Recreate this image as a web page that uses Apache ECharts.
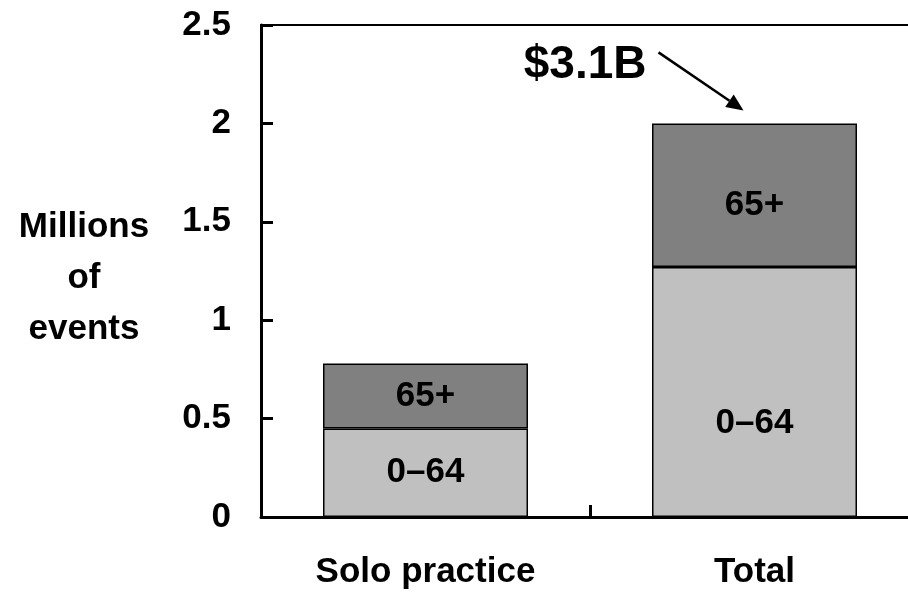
<!DOCTYPE html>
<html>
<head>
<meta charset="utf-8">
<script src="https://cdn.jsdelivr.net/npm/echarts@6/dist/echarts.min.js"></script>
<style>
  html, body { margin: 0; padding: 0; background: #fff; }
  #chart { width: 908px; height: 594px; }
</style>
</head>
<body>
<div id="chart"></div>
<script>
// Adverse events by practice setting, split by patient age group
const categories = ['Solo practice', 'Total'];
const ageUnder65 = [0.45, 1.27];
const age65Plus = [0.33, 0.73];
const segmentNames = ['0\u201364', '65+'];
const yTicks = [0, 0.5, 1, 1.5, 2, 2.5];
const costLabel = '$3.1B';
const axisTitle = ['Millions', 'of', 'events'];

const FONT = '"Liberation Sans", Arial, sans-serif';
const FS = 35;

const chart = echarts.init(document.getElementById('chart'), null, { renderer: 'canvas' });

const labelStyle = {
  show: true,
  position: 'inside',
  fontFamily: FONT,
  fontWeight: 'bold',
  fontSize: FS,
  color: '#000'
};

chart.setOption({
  animation: false,
  backgroundColor: '#fff',
  grid: {
    left: 261, top: 25, bottom: 77, width: 658,
    outerBoundsMode: 'none',
    containLabel: false,
    show: true, borderColor: '#000', borderWidth: 2, backgroundColor: 'transparent'
  },
  xAxis: {
    type: 'category',
    data: categories,
    axisLine: { lineStyle: { color: '#000', width: 3 } },
    axisTick: { show: true, inside: true, length: 12, lineStyle: { color: '#000', width: 3 } },
    axisLabel: { fontFamily: FONT, fontWeight: 'bold', fontSize: FS, color: '#000', margin: 38 },
    splitLine: { show: false }
  },
  yAxis: {
    type: 'value',
    min: yTicks[0],
    max: yTicks[yTicks.length - 1],
    interval: 0.5,
    axisLine: { show: true, lineStyle: { color: '#000', width: 3 } },
    axisTick: { show: true, inside: true, length: 12, lineStyle: { color: '#000', width: 3 } },
    axisLabel: {
      fontFamily: FONT, fontWeight: 'bold', fontSize: FS, color: '#000', margin: 30,
      formatter: v => String(v)
    },
    splitLine: { show: false }
  },
  series: [
    {
      name: segmentNames[0],
      type: 'bar',
      stack: 'events',
      barWidth: 205,
      data: ageUnder65.map((v, i) => ({
        value: v,
        label: { offset: [0, i === 1 ? 31 : 0] }
      })),
      itemStyle: { color: '#c0c0c0', borderColor: '#000', borderWidth: 1.5 },
      label: Object.assign({}, labelStyle, { formatter: segmentNames[0] })
    },
    {
      name: segmentNames[1],
      type: 'bar',
      stack: 'events',
      barWidth: 205,
      data: age65Plus.map((v, i) => ({
        value: v,
        label: { offset: [0, i === 1 ? 10 : 0] }
      })),
      itemStyle: { color: '#808080', borderColor: '#000', borderWidth: 1.5 },
      label: Object.assign({}, labelStyle, { formatter: segmentNames[1] })
    }
  ]
});

// Annotation: cost callout pointing at the top of the Total bar
const totalTop = ageUnder65[1] + age65Plus[1];
const tip = chart.convertToPixel({ gridIndex: 0 }, [1, totalTop]);
const tipX = tip[0] - 11, tipY = tip[1] - 13;
const startX = tipX - 85, startY = tipY - 58;
const ang = Math.atan2(tipY - startY, tipX - startX);
const headLen = 17, headHalf = 7.5;
const bx = tipX - headLen * Math.cos(ang), by = tipY - headLen * Math.sin(ang);
const px = -Math.sin(ang) * headHalf, py = Math.cos(ang) * headHalf;

chart.setOption({
  graphic: [
    {
      type: 'text',
      x: 84, y: 202,
      style: {
        text: axisTitle.join('\n'),
        fontFamily: FONT, fontWeight: 'bold', fontSize: FS,
        lineHeight: 51, fill: '#000', align: 'center', verticalAlign: 'top'
      }
    },
    {
      type: 'text',
      x: startX - 12, y: startY + 13,
      style: {
        text: costLabel,
        fontFamily: FONT, fontWeight: 'bold', fontSize: 46,
        fill: '#000', align: 'right', verticalAlign: 'middle'
      }
    },
    {
      type: 'line',
      shape: { x1: startX, y1: startY, x2: bx, y2: by },
      style: { stroke: '#000', lineWidth: 2.5 }
    },
    {
      type: 'polygon',
      shape: { points: [[tipX, tipY], [bx + px, by + py], [bx - px, by - py]] },
      style: { fill: '#000' }
    }
  ]
});
</script>
</body>
</html>
